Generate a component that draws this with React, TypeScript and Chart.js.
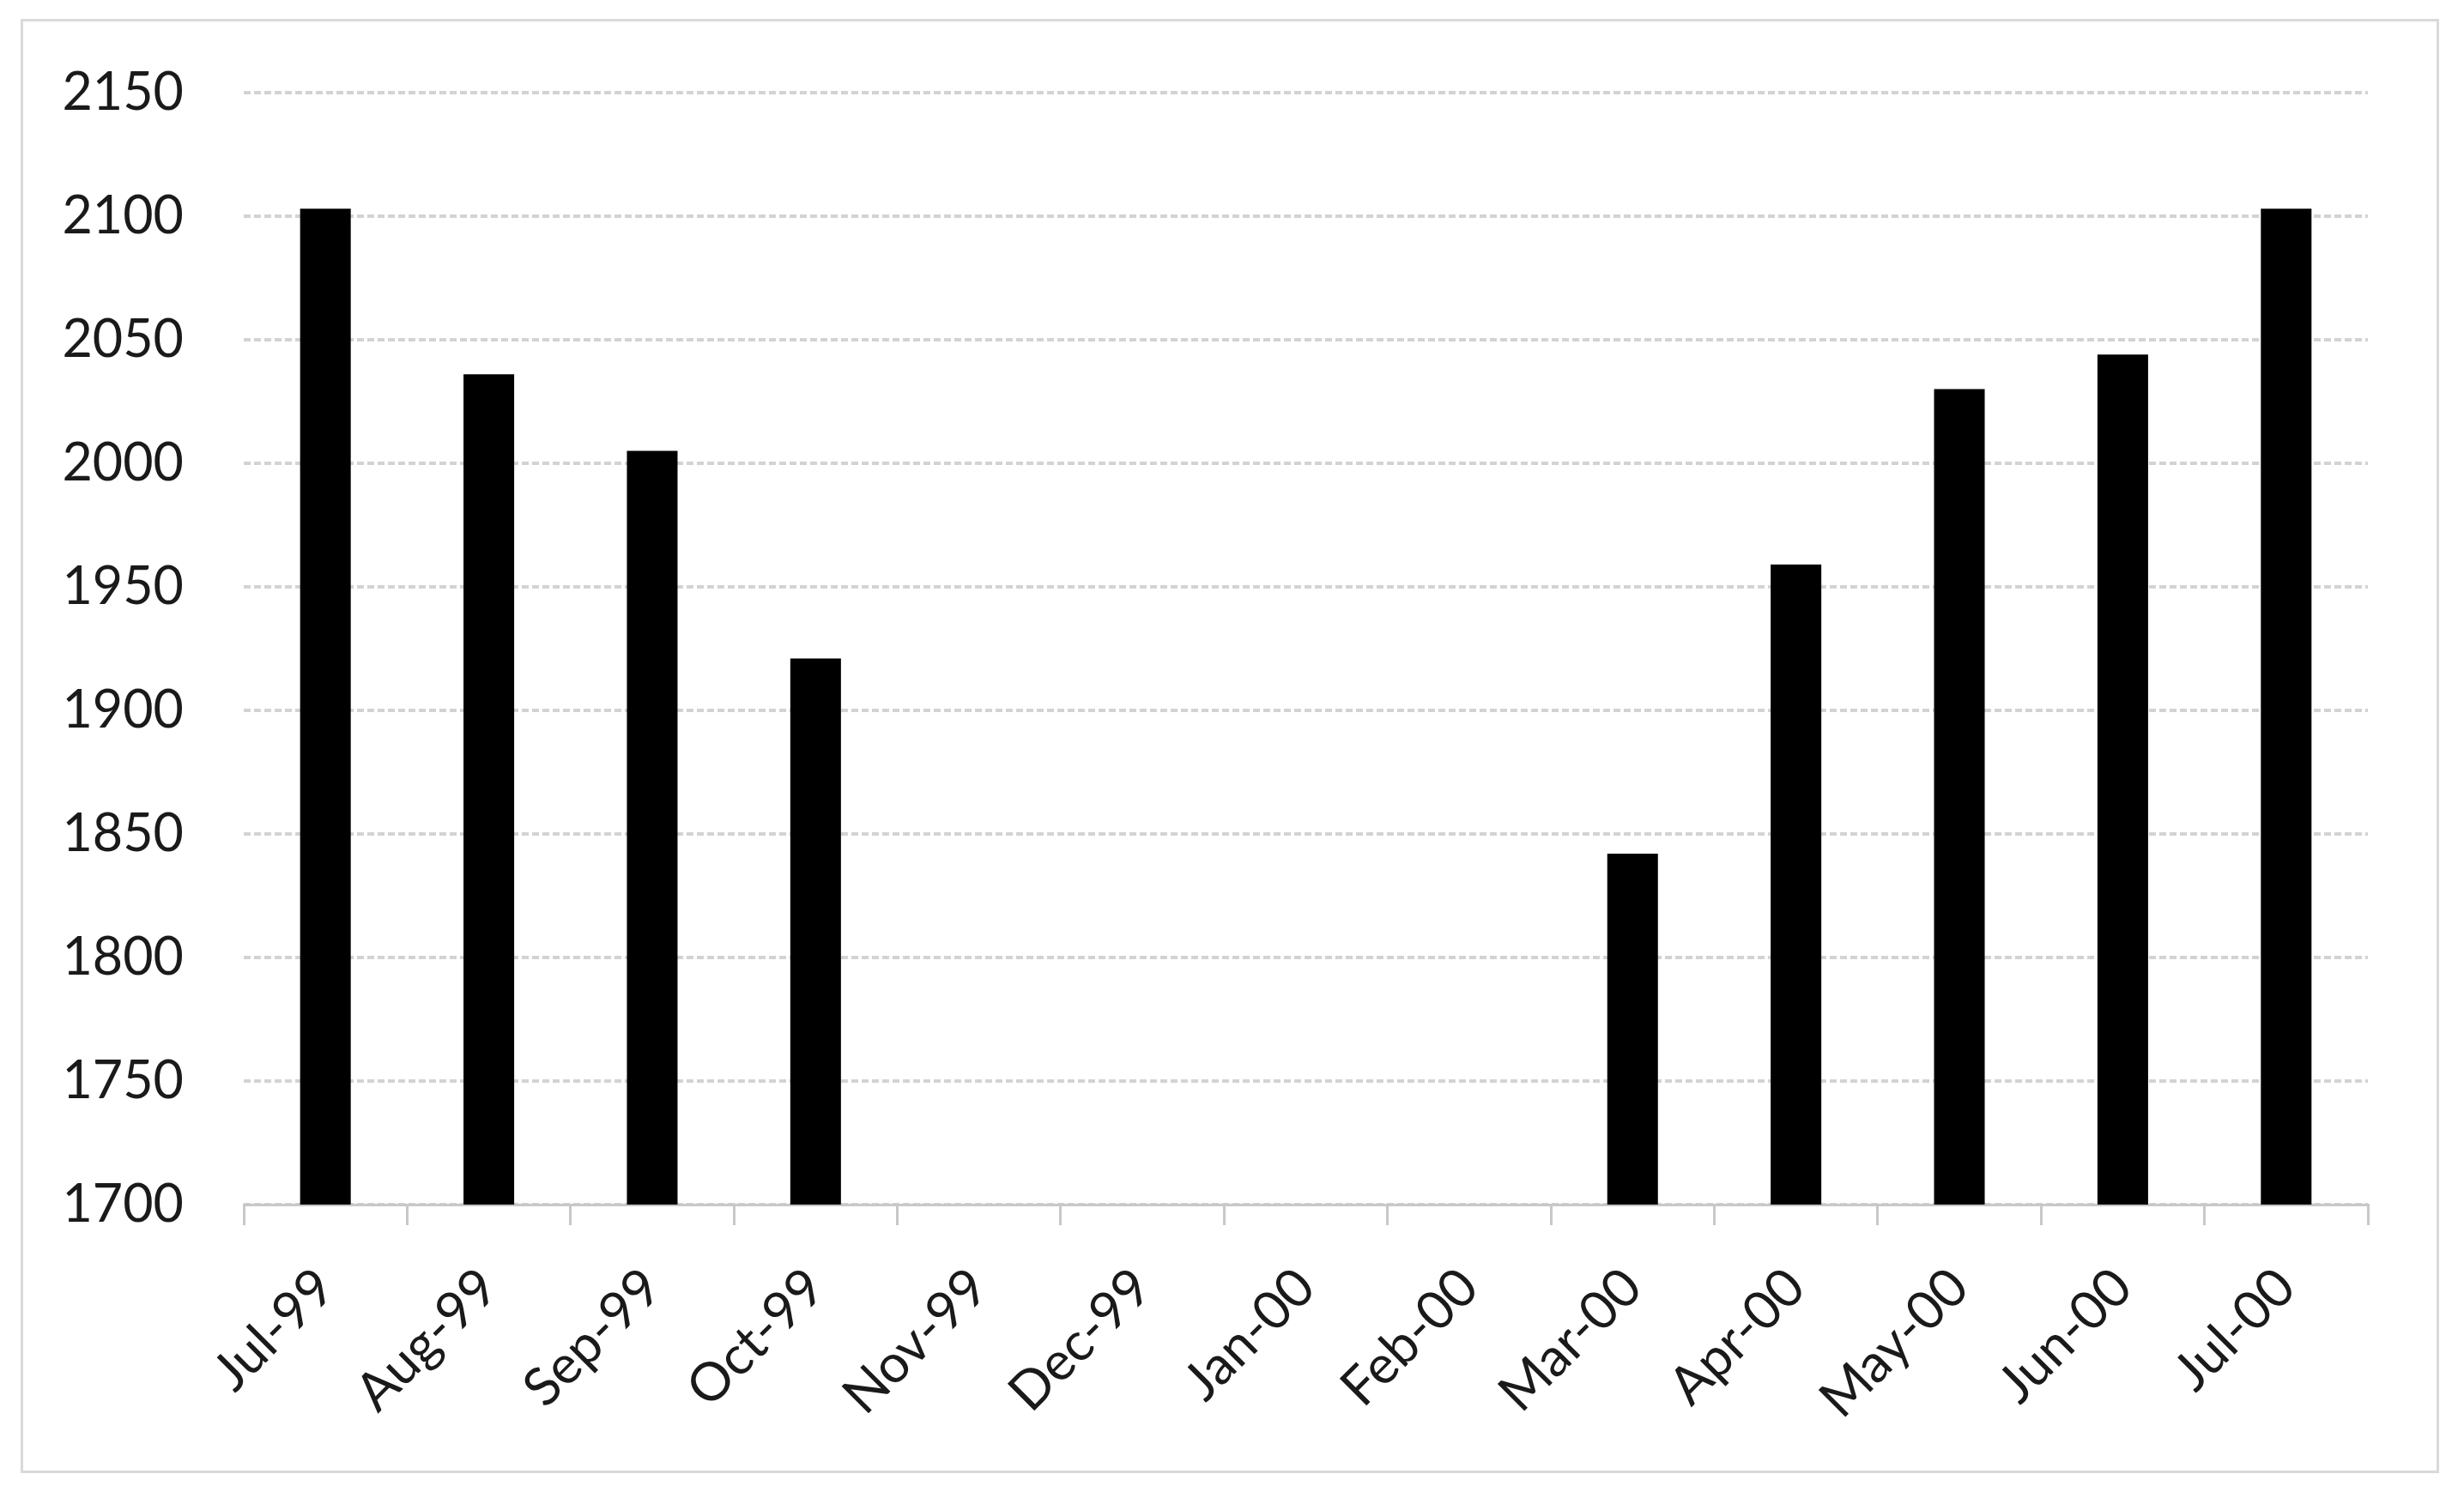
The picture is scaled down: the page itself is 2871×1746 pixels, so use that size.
import React, { useEffect, useRef } from 'react';
import { Chart, registerables } from 'chart.js';

Chart.register(...registerables);

const categories = ['Jul-99', 'Aug-99', 'Sep-99', 'Oct-99', 'Nov-99', 'Dec-99', 'Jan-00', 'Feb-00', 'Mar-00', 'Apr-00', 'May-00', 'Jun-00', 'Jul-00'];
const values: (number | null)[] = [2103, 2036, 2005, 1921, null, null, null, null, 1842, 1959, 2030, 2044, 2103];
const yMin = 1700;
const yMax = 2150;
const yStep = 50;

const FONT = 'Lato, "Open Sans", sans-serif';

export default function App() {
  const ref = useRef<HTMLCanvasElement | null>(null);

  useEffect(() => {
    if (!ref.current) return;
    const chart = new Chart(ref.current, {
      type: 'bar',
      data: {
        labels: categories,
        datasets: [
          {
            data: values,
            backgroundColor: '#000000',
            borderWidth: 0,
            categoryPercentage: 1,
            barPercentage: 0.31,
          },
        ],
      },
      options: {
        animation: false,
        responsive: true,
        maintainAspectRatio: false,
        layout: { padding: { left: 0, right: 112, top: 108, bottom: 0 } },
        plugins: { legend: { display: false }, tooltip: { enabled: false }, title: { display: false } },
        scales: {
          x: {
            grid: {
              display: true,
              offset: true,
              drawOnChartArea: false,
              drawTicks: true,
              tickLength: 24,
              color: '#c8c8c8',
              lineWidth: 3,
            },
            border: { display: true, color: '#c8c8c8', width: 3 },
            ticks: {
              font: { family: FONT, size: 62 },
              color: '#1a1a1a',
              minRotation: 45,
              maxRotation: 45,
              autoSkip: false,
              padding: 36,
            },
            afterFit: (scale: any) => {
              scale.height = 342;
            },
          },
          y: {
            min: yMin,
            max: yMax,
            grid: {
              color: '#d3d3d3',
              lineWidth: 4,
              drawTicks: false,
            },
            border: { display: false, dash: [8, 4] },
            ticks: {
              stepSize: yStep,
              font: { family: FONT, size: 61 },
              color: '#1a1a1a',
              padding: 70,
              callback: (v: any) => String(v),
            },
            afterFit: (scale: any) => {
              scale.width = 284;
            },
          },
        },
      },
    });
    return () => chart.destroy();
  }, []);

  return (
    <div style={{ position: 'absolute', left: 0, top: 0, width: 2871, height: 1746, background: '#ffffff' }}>
      <div
        style={{
          position: 'absolute',
          left: 24,
          top: 22,
          width: 2818,
          height: 1695,
          border: '3px solid #d9d9d9',
          boxSizing: 'border-box',
        }}
      />
      <canvas ref={ref} style={{ position: 'absolute', left: 0, top: 0 }} />
    </div>
  );
}
